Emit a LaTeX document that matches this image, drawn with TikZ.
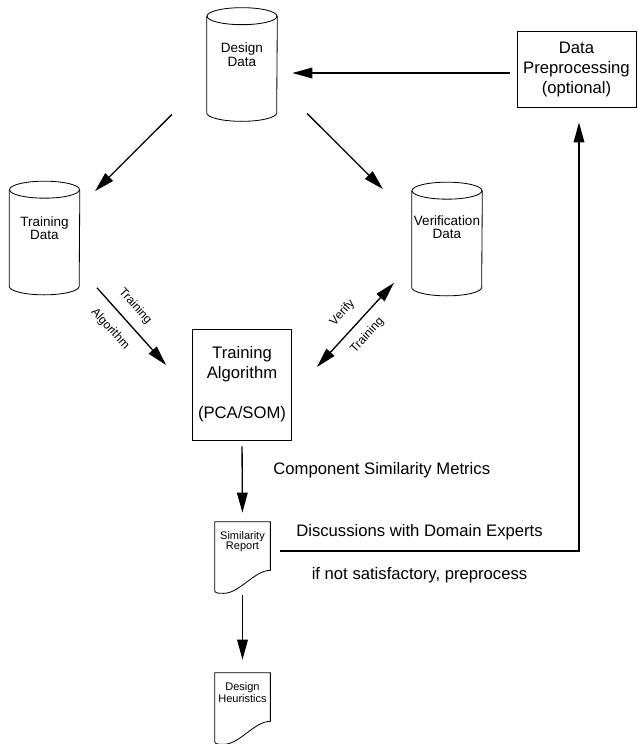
\documentclass[tikz,border=0pt]{standalone}
\usepackage{fontspec}
\setmainfont{Liberation Sans}
\usetikzlibrary{arrows.meta,positioning,calc}

% drum outline round a data store node
\newcommand{\dbdrum}[1]{%
  \draw[dbline] ($(#1.north)+(0,8.5)$) ellipse [x radius=21pt, y radius=5.1pt];
  \draw[dbline] ($(#1.north west)+(0,8.5)$) -- ($(#1.south west)+(0,-8.5)$)
    arc [start angle=180, end angle=360, x radius=21pt, y radius=5.1pt]
    -- ($(#1.north east)+(0,8.5)$);%
}
% page outline with wavy lower edge
\newcommand{\docpage}[1]{%
  \draw[docline] (#1.south east) -- (#1.north east) -- (#1.north west)
    -- ($(#1.south west)+(0,20)$)
    .. controls +(0,3) and +(-5,0) .. ($(#1.south west)+(9,23)$)
    .. controls +(16,0) and +(-16,0) .. (#1.south east);%
}

\begin{document}
\begin{tikzpicture}[
    x=0.6pt, y=-0.6pt,
    dbase/.style={
        rectangle, minimum width=42pt, minimum height=67.8pt, inner sep=0pt
    },
    dbline/.style={line width=0.5pt},
    dbtext/.style={
        font=\fontsize{8.1pt}{8pt}\selectfont, align=center, inner sep=0pt
    },
    procbox/.style={
        rectangle, draw, line width=0.5pt, align=center,
        font=\fontsize{10pt}{12pt}\selectfont
    },
    docbox/.style={
        rectangle, minimum width=33pt, minimum height=28.8pt, inner sep=0pt
    },
    doctext/.style={
        font=\fontsize{6.6pt}{6pt}\selectfont, align=center, inner sep=0pt
    },
    docline/.style={line width=0.5pt},
    flow/.style={
        -{Triangle[length=12pt, width=6.4pt]}, line width=0.8pt
    },
    twoway/.style={
        {Triangle[length=12pt, width=6.4pt]}-{Triangle[length=12pt, width=6.4pt]}, line width=0.8pt
    },
    edgetext/.style={font=\fontsize{7.2pt}{8pt}\selectfont, sloped},
    bigtext/.style={font=\fontsize{10pt}{12pt}\selectfont}
]

\useasboundingbox (0,0) rectangle (637,744);

% ==================== DATA STORES ====================
\node[dbase] (dd) at (242,64.5) {};
\dbdrum{dd}
\node[dbtext] at (dd.north) [below=21pt] {Design\\Data};

\node[dbase] (td) at (44.5,238) {};
\dbdrum{td}
\node[dbtext] at (td.north) [below=21pt] {Training\\Data};

\node[dbase] (vd) at (447,239) {};
\dbdrum{vd}
\node[dbtext] at (vd.north) [below=20pt] {Verification\\Data};

% ==================== PROCESS BOXES ====================
\node[procbox, minimum width=71.4pt, minimum height=45.6pt] (pre) at (576.5,69) {Data\\Preprocessing\\(optional)};
\node[procbox, minimum width=50.4pt, minimum height=66.6pt] (ta) at (242,384.5) {Training\\Algorithm\\ \\(PCA/SOM)};

% ==================== REPORTS ====================
\node[docbox] (sr) at (242.5,546) {};
\node[doctext] at (sr.north) [below=6pt] {Similarity\\Report};
\docpage{sr}

\node[docbox] (dh) at (242.5,697) {};
\node[doctext] at (dh.north) [below=6pt] {Design\\Heuristics};
\docpage{dh}

% ==================== CONNECTORS ====================
\draw[flow] ($(pre.west)+(-7,4)$) -- ($(dd.east)+(15,8.5)$);
\draw[flow] ($(dd.south)+(-70,-7)$) -- ($(td.north)+(50.5,10)$);
\draw[flow] ($(dd.south)+(65,-8)$) -- ($(vd.north)+(-64,7)$);

\draw[flow] ($(td.south)+(52.5,-7)$) --
    node[edgetext, pos=0.38, above=2.5pt] {Training}
    node[edgetext, pos=0.38, below=3.5pt] {Algorithm}
    ($(ta.west)+(-26,-19.5)$);

\draw[twoway] ($(ta.east)+(25,-17.5)$) --
    node[edgetext, above=3.5pt] {Verify}
    node[edgetext, below=2.5pt] {Training}
    ($(vd.south)+(-53,-13)$);

\draw[flow, shorten <=3.6pt, shorten >=5.4pt] (ta.south) --
    node[bigtext, pos=0.37, right=15pt] {Component Similarity Metrics}
    (sr.north);

\draw[flow, shorten <=15pt, shorten >=7.8pt] (sr.south) -- (dh.north);

\draw[flow] ($(sr.east)+(10,5)$) -|
    node[bigtext, pos=0.233, above=3pt] {Discussions with Domain Experts}
    node[bigtext, pos=0.233, below=6pt] {if not satisfactory, preprocess}
    ($(pre.south)+(2.5,15)$);

\end{tikzpicture}
\end{document}
